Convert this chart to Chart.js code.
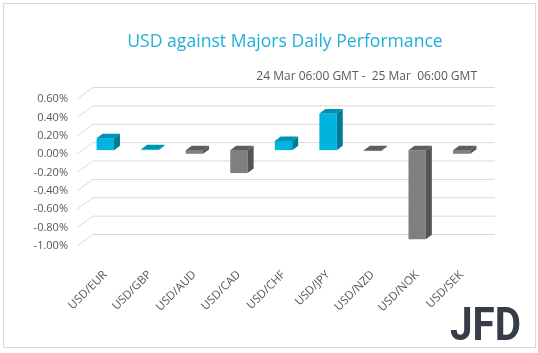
<!DOCTYPE html>
<html>
<head>
<meta charset="utf-8">
<script src="https://cdn.jsdelivr.net/npm/chart.js@4.4.1/dist/chart.umd.min.js"></script>
<style>
  body { margin: 0; background: #fff; }
  #wrap { position: relative; width: 538px; height: 353px; }
  #frame { position: absolute; left: 3px; top: 3px; width: 531px; height: 343px; border: 1px solid #d9d9d9; pointer-events: none; }
  canvas { position: absolute; left: 0; top: 0; }
</style>
</head>
<body>
<div id="wrap">
  <canvas id="perfChart" width="538" height="353"></canvas>
  <div id="frame"></div>
</div>
<script>
var categories = ['USD/EUR', 'USD/GBP', 'USD/AUD', 'USD/CAD', 'USD/CHF', 'USD/JPY', 'USD/NZD', 'USD/NOK', 'USD/SEK'];
var changes = [0.13, 0.01, -0.04, -0.25, 0.10, 0.40, -0.01, -0.97, -0.04];
var yTickValues = [0.6, 0.4, 0.2, 0, -0.2, -0.4, -0.6, -0.8, -1.0];
var titleText = 'USD against Majors Daily Performance';
var subtitleText = '24 Mar 06:00 GMT -  25 Mar  06:00 GMT';

// 3d depth of the bars and of the wall
var barDx = 6, barDy = -4.5;
var wallDx = 10, wallDy = -7.5;

var upFront = '#00b4de', upTop = '#0092b4', upSide = '#007b96';
var downFront = '#7f7f7f', downTop = '#5e5e5e', downSide = '#545454';

var wallPlugin = {
    id: 'wall3d',
    beforeDatasetsDraw: function(chart) {
        var ctx = chart.ctx;
        var area = chart.chartArea;
        var y = chart.scales.y;
        ctx.save();
        ctx.strokeStyle = '#d9d9d9';
        ctx.lineWidth = 1;
        yTickValues.forEach(function(v) {
            var py = y.getPixelForValue(v);
            ctx.beginPath();
            ctx.moveTo(area.left - 6, py + 4);
            ctx.lineTo(area.left + wallDx, py + wallDy);
            ctx.lineTo(area.right + wallDx + 1, py + wallDy);
            ctx.stroke();
        });
        ctx.restore();
    },
    afterDatasetsDraw: function(chart) {
        var ctx = chart.ctx;
        var meta = chart.getDatasetMeta(0);
        ctx.save();
        meta.data.forEach(function(bar, i) {
            var left = bar.x - bar.width / 2;
            var right = bar.x + bar.width / 2;
            var top = Math.min(bar.y, bar.base);
            var bottom = Math.max(bar.y, bar.base);
            var up = changes[i] >= 0;
            // top face
            ctx.fillStyle = up ? upTop : downTop;
            ctx.beginPath();
            ctx.moveTo(left, top);
            ctx.lineTo(left + barDx, top + barDy);
            ctx.lineTo(right + barDx, top + barDy);
            ctx.lineTo(right, top);
            ctx.closePath();
            ctx.fill();
            // side face
            ctx.fillStyle = up ? upSide : downSide;
            ctx.beginPath();
            ctx.moveTo(right, top);
            ctx.lineTo(right + barDx, top + barDy);
            ctx.lineTo(right + barDx, bottom + barDy);
            ctx.lineTo(right, bottom);
            ctx.closePath();
            ctx.fill();
        });
        ctx.restore();
    },
    afterDraw: function(chart) {
        var ctx = chart.ctx;
        ctx.save();
        ctx.fillStyle = '#1fafd8';
        ctx.font = '17.6px "Open Sans"';
        ctx.textAlign = 'center';
        ctx.textBaseline = 'alphabetic';
        ctx.fillText(titleText, 285, 47);

        ctx.fillStyle = '#595959';
        ctx.font = '12px "Open Sans"';
        ctx.textAlign = 'right';
        ctx.fillText(subtitleText, 477, 80);

        // logo
        ctx.fillStyle = '#363d46';
        ctx.font = 'bold 46px Roboto';
        ctx.textAlign = 'left';
        ctx.fillText('JFD', 450, 340, 71);
        ctx.restore();
    }
};

function createChart() {
    var ctx = document.getElementById('perfChart').getContext('2d');
    new Chart(ctx, {
        type: 'bar',
        data: {
            labels: categories,
            datasets: [{
                data: changes,
                backgroundColor: changes.map(function(v) { return v >= 0 ? upFront : downFront; }),
                borderWidth: 0,
                barPercentage: 0.39,
                categoryPercentage: 1
            }]
        },
        options: {
            responsive: false,
            animation: false,
            layout: { padding: { left: 32, right: 54, top: 95, bottom: 31 } },
            plugins: {
                legend: { display: false },
                tooltip: { enabled: false },
                title: { display: false }
            },
            scales: {
                x: {
                    grid: { display: false, drawTicks: false },
                    border: { display: false },
                    ticks: {
                        color: '#595959',
                        font: { family: '"Open Sans"', size: 11.5 },
                        minRotation: 45,
                        maxRotation: 45,
                        padding: 26
                    },
                    afterFit: function(scale) { scale.height = 80; }
                },
                y: {
                    min: -1.0,
                    max: 0.6,
                    grid: { display: false, drawTicks: false },
                    border: { display: false },
                    afterBuildTicks: function(scale) {
                        scale.ticks = yTickValues.map(function(v) { return { value: v }; });
                    },
                    afterFit: function(scale) { scale.width = 51; },
                    ticks: {
                        color: '#595959',
                        font: { family: '"Open Sans"', size: 11 },
                        padding: 15,
                        labelOffset: 4,
                        callback: function(v) { return v.toFixed(2) + '%'; }
                    }
                }
            }
        },
        plugins: [wallPlugin]
    });
}

createChart();
</script>
</body>
</html>
